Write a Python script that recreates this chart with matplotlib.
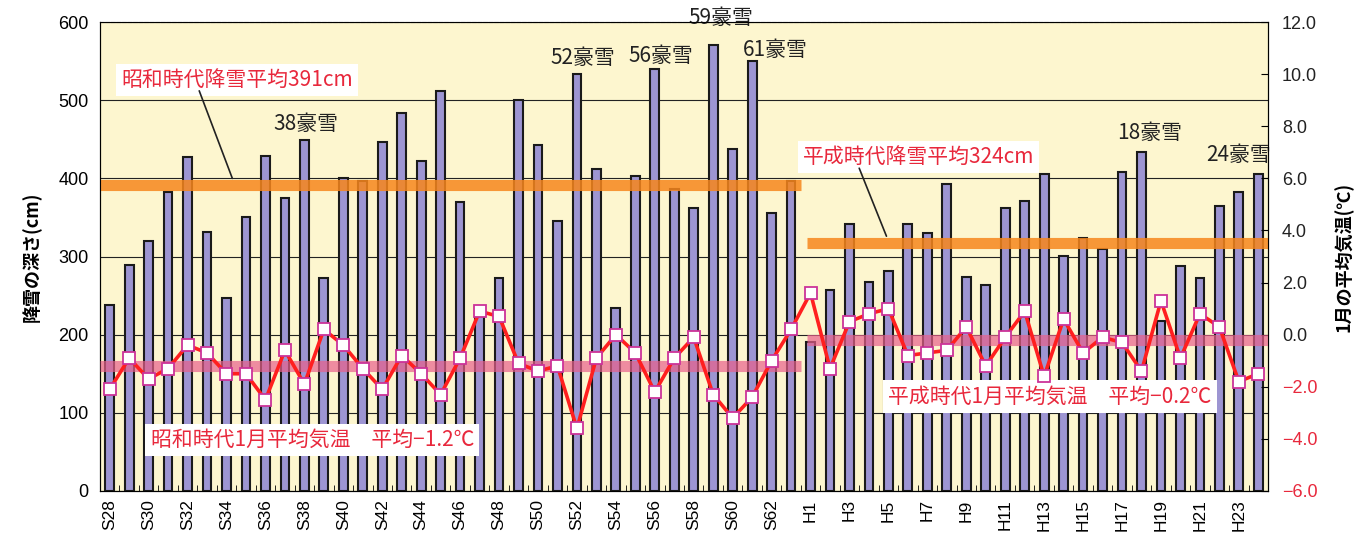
import numpy as np
import matplotlib
matplotlib.use("Agg")
import matplotlib.pyplot as plt
from matplotlib.ticker import FixedLocator

plt.rcParams['font.family'] = ['Noto Sans CJK JP', 'DejaVu Sans']

# 年度 (S28〜S63, H1〜H24)
years = [f"S{y}" for y in range(28, 64)] + [f"H{y}" for y in range(1, 25)]

# 最大積雪深 (cm)
snow = [238, 289, 320, 382, 427, 331, 247, 350, 428, 375,
        449, 272, 400, 397, 446, 484, 422, 512, 370, 235,
        272, 500, 443, 345, 533, 412, 234, 403, 540, 387,
        362, 571, 438, 550, 356, 397,
        191, 257, 342, 268, 281, 342, 330, 393, 274, 264,
        362, 371, 405, 301, 324, 309, 408, 434, 218, 288,
        272, 365, 383, 405]

# 1月平均気温 (℃)
temp = [-2.1, -0.9, -1.7, -1.3, -0.4, -0.7, -1.5, -1.5, -2.5, -0.6,
        -1.9, 0.2, -0.4, -1.3, -2.1, -0.8, -1.5, -2.3, -0.9, 0.9,
        0.7, -1.1, -1.4, -1.2, -3.6, -0.9, 0.0, -0.7, -2.2, -0.9,
        -0.1, -2.3, -3.2, -2.4, -1.0, 0.2,
        1.6, -1.3, 0.5, 0.8, 1.0, -0.8, -0.7, -0.6, 0.3, -1.2,
        -0.1, 0.9, -1.6, 0.6, -0.7, -0.1, -0.3, -1.4, 1.3, -0.9,
        0.8, 0.3, -1.8, -1.5]

# 平均 (図中の帯の位置)
showa_snow_avg = 392
heisei_snow_avg = 317
showa_temp_avg = -1.2
heisei_temp_avg = -0.2

# 豪雪の注記 (文字の位置: 年度の番号, cm)
heavy_labels = ["38豪雪", "52豪雪", "56豪雪", "59豪雪", "61豪雪", "18豪雪", "24豪雪"]
heavy_x = [10.1, 24.3, 28.3, 31.4, 34.2, 53.4, 58.0]
heavy_y = [469, 554, 557, 605, 564, 458, 430]

x = np.arange(len(years))
n_showa = 36

fig = plt.figure(figsize=(13.71, 5.38), dpi=100)
ax = fig.add_axes([0.0729, 0.0874, 0.852, 0.8716])
ax.set_facecolor('#fdf6cf')

ax.bar(x, snow, width=0.45, color='#9d95d2', edgecolor='#1a1a1a', linewidth=1.5, zorder=2)
ax.set_xlim(-0.5, len(years) - 0.5)
ax.set_ylim(0, 600)
ax.set_yticks(range(0, 601, 100))
ax.grid(axis='y', color='#222222', linewidth=0.8, zorder=1)
ax.set_axisbelow(True)

# 降雪平均の帯
ax.hlines(showa_snow_avg, -0.5, n_showa - 0.5, color='#f7861c', linewidth=8, alpha=0.85, zorder=3)
ax.hlines(heisei_snow_avg, n_showa - 0.2, len(years) - 0.5, color='#f7861c', linewidth=8, alpha=0.85, zorder=3)

ax.set_xticks(x[::2])
ax.set_xticklabels(years[::2], rotation=90, fontsize=12.5, family=['Liberation Sans', 'DejaVu Sans'])
ax.xaxis.set_minor_locator(FixedLocator(x[:-1] + 0.5))
ax.tick_params(axis='x', which='both', direction='in', length=4, pad=6)
ax.tick_params(axis='y', length=0, labelsize=13, pad=8)
for lbl in ax.get_yticklabels():
    lbl.set_family(['Liberation Sans', 'DejaVu Sans'])
ax.set_ylabel('降雪の深さ(cm)', fontsize=13, fontweight='bold', labelpad=12)

for side in ['left', 'bottom', 'right']:
    ax.spines[side].set_color('#111111')
ax.spines['top'].set_color('#888888')
ax.spines['top'].set_linestyle((0, (3, 2)))

# 気温 (右軸)
ax2 = ax.twinx()
ax2.set_ylim(-6, 12)
ticks_t = np.arange(-6, 12.1, 2)
ax2.set_yticks(ticks_t)
ax2.set_yticklabels([f"{v:.1f}".replace('-', '−') for v in ticks_t],
                    fontsize=13, family=['Liberation Sans', 'DejaVu Sans'])
for lbl, v in zip(ax2.get_yticklabels(), ticks_t):
    lbl.set_color('#e8283c' if v < 0 else '#222222')
ax2.tick_params(axis='y', direction='in', length=5, pad=10)
ax2.set_ylabel('1月の平均気温(℃)', fontsize=13, fontweight='bold', labelpad=12)

ax2.hlines(showa_temp_avg, -0.5, n_showa - 0.5, color='#e8608c', linewidth=8, alpha=0.7, zorder=3)
ax2.hlines(heisei_temp_avg, n_showa - 0.2, len(years) - 0.5, color='#e8608c', linewidth=8, alpha=0.7, zorder=3)
ax2.plot(x, temp, color='#ff1f1f', linewidth=2.6, marker='s', markersize=9,
         markerfacecolor='white', markeredgecolor='#cc3399', markeredgewidth=1.3, zorder=5)

# 豪雪の注記
for lab, tx, ty in zip(heavy_labels, heavy_x, heavy_y):
    ax.text(tx, ty, lab, ha='center', va='center', fontsize=15, color='#222222',
            zorder=6, clip_on=False)

# 平均の説明
box = dict(boxstyle='square,pad=0.25', facecolor='white', edgecolor='none')
red = '#e8283c'
ax.text(0.6, 526, '昭和時代降雪平均391cm', fontsize=15, color=red,
        ha='left', va='center', bbox=box, zorder=6)
ax.annotate('', xy=(6.3, 400), xytext=(4.6, 512),
            arrowprops=dict(arrowstyle='-', color='#222222', lw=1.2, shrinkA=0, shrinkB=0), zorder=6)
ax.text(35.6, 427, '平成時代降雪平均324cm', fontsize=15, color=red,
        ha='left', va='center', bbox=box, zorder=6)
ax.annotate('', xy=(39.9, 326), xytext=(38.5, 413),
            arrowprops=dict(arrowstyle='-', color='#222222', lw=1.2, shrinkA=0, shrinkB=0), zorder=6)
ax.text(2.1, 65, '昭和時代1月平均気温　平均−1.2℃', fontsize=15, color=red,
        ha='left', va='center', bbox=box, zorder=6)
ax.text(40.0, 121, '平成時代1月平均気温　平均−0.2℃', fontsize=15, color=red,
        ha='left', va='center', bbox=box, zorder=6)

fig.savefig('out.png', dpi=100, facecolor='white')
